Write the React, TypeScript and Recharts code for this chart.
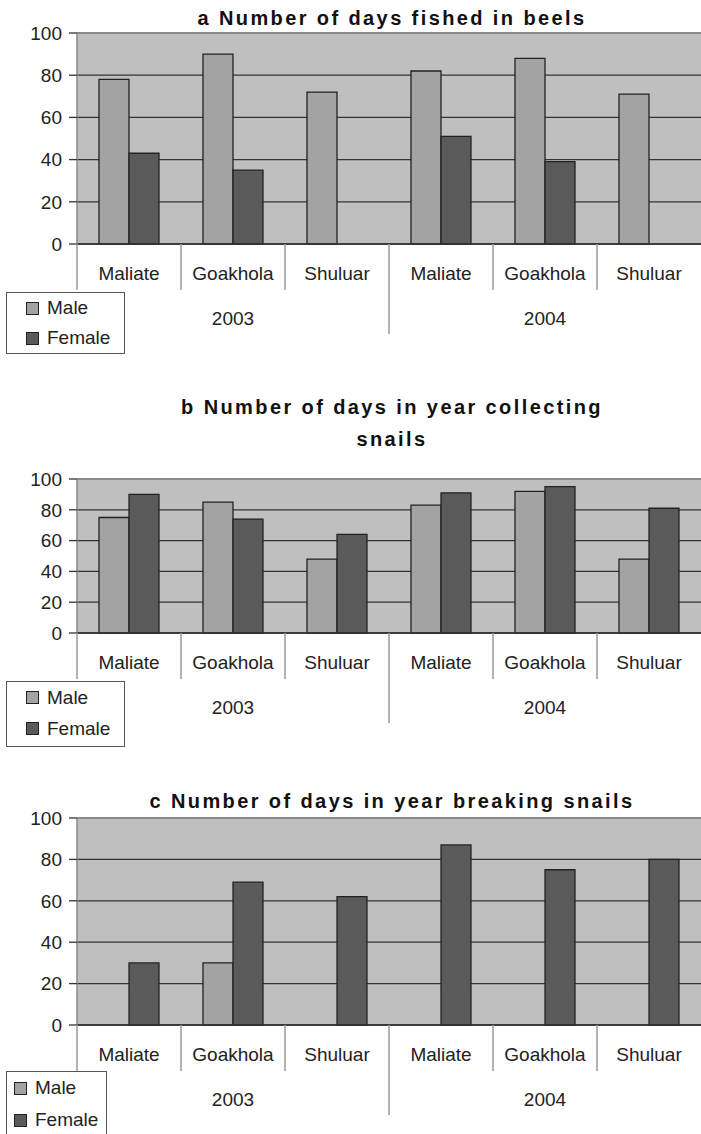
import { BarChart, Bar, XAxis, YAxis, CartesianGrid, Legend, ReferenceLine } from 'recharts';

const sites = ['Maliate', 'Goakhola', 'Shuluar', 'Maliate', 'Goakhola', 'Shuluar'];
const years = ['2003', '2003', '2003', '2004', '2004', '2004'];
const yTicks = [0, 20, 40, 60, 80, 100];
const seriesOrder = ['Male', 'Female'];

// a: days fished in beels
const fishedMale = [78, 90, 72, 82, 88, 71];
const fishedFemale = [43, 35, 0, 51, 39, 0];
// b: days collecting snails
const collectMale = [75, 85, 48, 83, 92, 48];
const collectFemale = [90, 74, 64, 91, 95, 81];
// c: days breaking snails
const breakMale = [0, 30, 0, 0, 0, 0];
const breakFemale = [30, 69, 62, 87, 75, 80];

const FONT = "'Liberation Sans', Arial, sans-serif";
const MALE = '#a3a3a3';
const FEMALE = '#5a5a5a';
const BG = '#bfbfbf';
const PLOT_LEFT = 77;
const CHART_W = 701;

const rows = (male: number[], female: number[]) =>
  sites.map((s, i) => ({ key: `${years[i]}-${s}`, site: s, year: years[i], male: male[i], female: female[i] }));

function SiteTick(props: any) {
  const { x, y, payload } = props;
  const i = payload.index ?? props.index;
  const band = payload.offset ? payload.offset * 2 : (CHART_W - PLOT_LEFT) / sites.length;
  const left = x - band / 2;
  const newYear = i > 0 && years[i] !== years[i - 1];
  const group = years.map((yr, j) => (yr === years[i] ? j : -1)).filter((j) => j >= 0);
  const isMid = group[Math.floor(group.length / 2)] === i;
  return (
    <g>
      <line x1={left} x2={left} y1={y} y2={y + (newYear ? 90 : 46)} stroke="#9a9a9a" strokeWidth={1.5} />
      <text x={x} y={y + 29} textAnchor="middle" dominantBaseline="central" fontSize={19} fill="#222" fontFamily={FONT}>
        {sites[i]}
      </text>
      {isMid && (
        <text x={x} y={y + 74} textAnchor="middle" dominantBaseline="central" fontSize={19} fill="#222" fontFamily={FONT}>
          {years[i]}
        </text>
      )}
    </g>
  );
}

type LegendBox = { left: number; top: number; width: number; height: number; padLeft: number; rowH: number };

function makeLegend(box: LegendBox) {
  return (props: any) => {
    const items = [...(props.payload || [])].sort(
      (a: any, b: any) => seriesOrder.indexOf(a.value) - seriesOrder.indexOf(b.value)
    );
    return (
      <div
        style={{
          boxSizing: 'border-box',
          width: box.width,
          height: box.height,
          border: '1.5px solid #555',
          background: '#fff',
          paddingLeft: box.padLeft,
          fontFamily: FONT,
          fontSize: 19,
          color: '#222',
        }}
      >
        {items.map((p: any) => (
          <div key={p.value} style={{ display: 'flex', alignItems: 'center', height: box.rowH }}>
            <span
              style={{
                display: 'inline-block',
                width: 11,
                height: 11,
                background: p.color,
                border: '1px solid #222',
                marginRight: 8,
              }}
            />
            <span>{p.value}</span>
          </div>
        ))}
      </div>
    );
  };
}

type PanelProps = {
  top: number;
  height: number;
  plotTop: number;
  plotBottom: number;
  male: number[];
  female: number[];
  legend: LegendBox;
};

function Panel({ top, height, plotTop, plotBottom, male, female, legend }: PanelProps) {
  const axisH = 90;
  return (
    <div style={{ position: 'absolute', left: 0, top, width: CHART_W, height }}>
      <BarChart
        width={CHART_W}
        height={height}
        data={rows(male, female)}
        margin={{ top: plotTop - top, right: 0, left: 0, bottom: top + height - plotBottom - axisH }}
        barCategoryGap={22}
        barGap={0}
      >
        <CartesianGrid vertical={false} fill={BG} stroke="#333" strokeWidth={1.3} />
        <XAxis
          dataKey="key"
          height={axisH}
          tickSize={0}
          tickMargin={0}
          tickLine={false}
          axisLine={{ stroke: '#333', strokeWidth: 1.5 }}
          tick={<SiteTick />}
          interval={0}
        />
        <YAxis
          width={PLOT_LEFT}
          domain={[0, 100]}
          ticks={yTicks}
          interval={0}
          tickSize={8}
          tickMargin={7}
          tickLine={{ stroke: '#333', strokeWidth: 1.3 }}
          axisLine={{ stroke: '#8a8a8a', strokeWidth: 1.5 }}
          tick={{ fontSize: 19, fill: '#222', fontFamily: FONT }}
        />
        <ReferenceLine y={100} stroke="#8a8a8a" strokeWidth={2} />
        <Legend
          layout="vertical"
          align="center"
          verticalAlign="middle"
          wrapperStyle={{ left: legend.left, top: legend.top - top, width: legend.width, height: legend.height }}
          content={makeLegend(legend)}
        />
        <Bar dataKey="male" name="Male" fill={MALE} stroke="#222" strokeWidth={1.3} isAnimationActive={false} />
        <Bar dataKey="female" name="Female" fill={FEMALE} stroke="#222" strokeWidth={1.3} isAnimationActive={false} />
      </BarChart>
    </div>
  );
}

const titleStyle: React.CSSProperties = {
  position: 'absolute',
  left: 80,
  width: 624,
  textAlign: 'center',
  fontFamily: FONT,
  fontWeight: 'bold',
  fontSize: 20,
  letterSpacing: 2.4,
  color: '#111',
  whiteSpace: 'nowrap',
};

export default function App() {
  return (
    <div style={{ position: 'absolute', left: 0, top: 0, width: 701, height: 1134, background: '#fff', overflow: 'hidden' }}>
      <Panel
        top={0}
        height={362}
        plotTop={33}
        plotBottom={244}
        male={fishedMale}
        female={fishedFemale}
        legend={{ left: 6, top: 292, width: 119, height: 62, padLeft: 19, rowH: 30 }}
      />
      <Panel
        top={375}
        height={375}
        plotTop={479}
        plotBottom={633}
        male={collectMale}
        female={collectFemale}
        legend={{ left: 6, top: 681, width: 119, height: 66, padLeft: 19, rowH: 31 }}
      />
      <Panel
        top={780}
        height={354}
        plotTop={818}
        plotBottom={1025}
        male={breakMale}
        female={breakFemale}
        legend={{ left: 6, top: 1071, width: 101, height: 66, padLeft: 7, rowH: 32 }}
      />
      <div style={{ ...titleStyle, top: 8, lineHeight: '20px' }}>a Number of days fished in beels</div>
      <div style={{ ...titleStyle, top: 391, lineHeight: '32px' }}>
        b Number of days in year collecting
        <br />
        snails
      </div>
      <div style={{ ...titleStyle, top: 791, lineHeight: '20px' }}>c Number of days in year breaking snails</div>
    </div>
  );
}
